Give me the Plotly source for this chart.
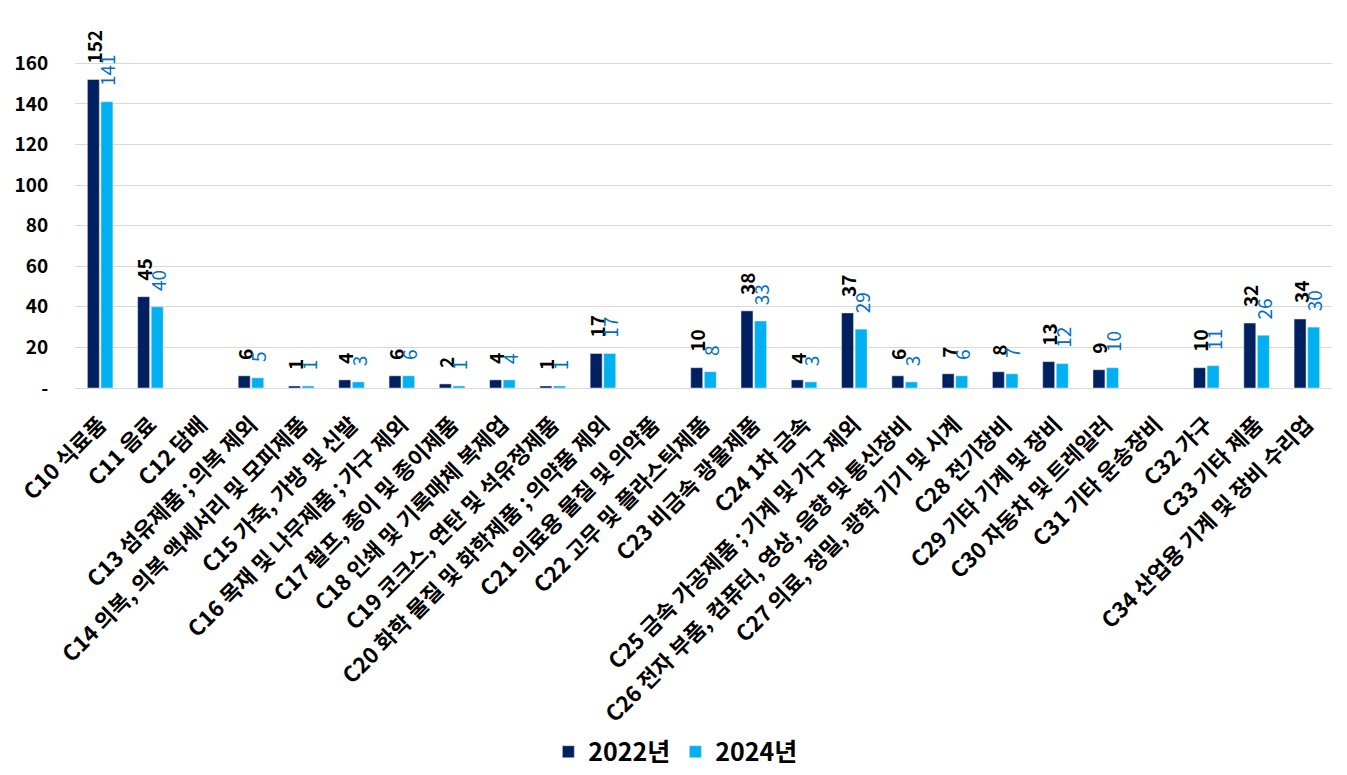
import plotly.graph_objects as go

categories = [
    "C10 식료품", "C11 음료", "C12 담배", "C13 섬유제품 ; 의복 제외",
    "C14 의복, 의복 액세서리 및 모피제품", "C15 가죽, 가방 및 신발",
    "C16 목재 및 나무제품 ; 가구 제외", "C17 펄프, 종이 및 종이제품",
    "C18 인쇄 및 기록매체 복제업", "C19 코크스, 연탄 및 석유정제품",
    "C20 화학 물질 및 화학제품 ; 의약품 제외", "C21 의료용 물질 및 의약품",
    "C22 고무 및 플라스틱제품", "C23 비금속 광물제품", "C24 1차 금속",
    "C25 금속 가공제품 ; 기계 및 가구 제외",
    "C26 전자 부품, 컴퓨터, 영상, 음향 및 통신장비",
    "C27 의료, 정밀, 광학 기기 및 시계", "C28 전기장비", "C29 기타 기계 및 장비",
    "C30 자동차 및 트레일러", "C31 기타 운송장비", "C32 가구", "C33 기타 제품",
    "C34 산업용 기계 및 장비 수리업",
]
values_2022 = [152, 45, None, 6, 1, 4, 6, 2, 4, 1, 17, None, 10, 38, 4, 37, 6, 7, 8, 13, 9, None, 10, 32, 34]
values_2024 = [141, 40, None, 5, 1, 3, 6, 1, 4, 1, 17, None, 8, 33, 3, 29, 3, 6, 7, 12, 10, None, 11, 26, 30]
ytick_vals = [0, 20, 40, 60, 80, 100, 120, 140, 160]
ytick_text = ["-", "20", "40", "60", "80", "100", "120", "140", "160"]

FONT = "Noto Sans CJK KR"
PAD = "\u00a0\u00a0\u00a0"

def labels(vals):
    return ["" if v is None else PAD + str(v) for v in vals]

fig = go.Figure()
fig.add_trace(go.Bar(
    x=categories, y=values_2022, name="<b>2022년</b>",
    marker_color="#002060",
    text=labels(values_2022), textposition="outside", textangle=-90,
    constraintext="none",
    textfont=dict(family=FONT, size=19, color="#000000", weight="bold"),
    cliponaxis=False,
))
fig.add_trace(go.Bar(
    x=categories, y=values_2024, name="<b>2024년</b>",
    marker_color="#00B0F0",
    text=labels(values_2024), textposition="outside", textangle=-90,
    constraintext="none",
    textfont=dict(family=FONT, size=19, color="#0070C0"),
    cliponaxis=False,
))

fig.update_layout(
    width=1347, height=775,
    paper_bgcolor="white", plot_bgcolor="white",
    barmode="group", bargap=0.46, bargroupgap=0.12,
    margin=dict(l=67, r=23, t=35, b=395, autoexpand=False),
    font=dict(family=FONT, color="#000000"),
    showlegend=True,
    legend=dict(orientation="h", x=0.478, xanchor="center", y=-1.055, yanchor="middle",
                font=dict(family=FONT, size=25, color="#000000"),
                itemwidth=30, traceorder="normal"),
    xaxis=dict(tickangle=-45, tickfont=dict(family=FONT, size=22, color="#000000", weight="bold"),
               showgrid=False, showline=False, ticks="outside", ticklen=14,
               tickcolor="rgba(0,0,0,0)", automargin=False),
    yaxis=dict(range=[0, 170], tickvals=ytick_vals, ticktext=ytick_text,
               tickfont=dict(family=FONT, size=19, color="#000000", weight="bold"),
               showgrid=True, gridcolor="#D9D9D9", gridwidth=1.3,
               zeroline=True, zerolinecolor="#D9D9D9", zerolinewidth=1.3,
               showline=False, ticks="outside", ticklen=22, tickcolor="rgba(0,0,0,0)",
               automargin=False),
)

fig.write_html("out.html")
